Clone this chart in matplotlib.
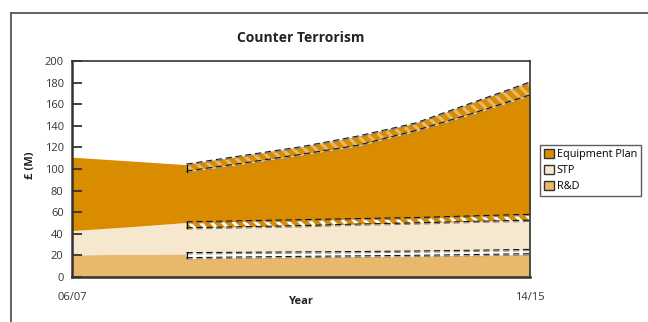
import matplotlib
matplotlib.use("Agg")
import matplotlib.pyplot as plt
from matplotlib.patches import Patch
from matplotlib.lines import Line2D
import numpy as np

plt.rcParams['font.family'] = ['Open Sans', 'DejaVu Sans']
plt.rcParams['hatch.linewidth'] = 2.2

years = ['06/07', '07/08', '08/09', '09/10', '10/11', '11/12', '12/13', '13/14', '14/15']
tick_labels = ['06/07', '14/15']

# actual (stacked tops) for 06/07 .. 08/09
rd_actual = [20.5, 21, 21.5]
stp_actual = [43, 46.5, 50.5]
equip_actual = [111, 107.5, 104]

# forecast bands (stacked) for 08/09 .. 14/15
rd_lo = [17.3, 18, 18.5, 19, 19.5, 20.2, 21]
rd_hi = [22, 22.3, 22.7, 23, 23.5, 24.2, 25]
stp_lo = [45, 46, 47, 48.5, 49.5, 51, 52]
stp_hi = [50.5, 51.5, 52.5, 53.5, 54.5, 56, 57.5]
equip_lo = [97.5, 105, 113, 121.5, 135, 151, 168]
equip_hi = [104, 112, 120, 130, 142, 161, 180]

C_EQ = '#D98C00'
C_STP = '#F6E7CF'
C_RD = '#E8B96C'
C_SP = '#333333'

fig = plt.figure(figsize=(6.48, 3.22), dpi=100)
ax = fig.add_axes([72/648, 1-277/322, (530-72)/648, (277-61)/322])

xa = np.arange(len(rd_actual))
xf = np.arange(len(rd_actual) - 1, len(years))

# actual part
ax.fill_between(xa, 0, rd_actual, color=C_RD, lw=0)
ax.fill_between(xa, rd_actual, stp_actual, color=C_STP, lw=0)
ax.fill_between(xa, stp_actual, equip_actual, color=C_EQ, lw=0)

# forecast part
ax.fill_between(xf, 0, rd_lo, color=C_RD, lw=0)
ax.fill_between(xf, rd_lo, rd_hi, color='#FFFDF8', lw=0)
ax.fill_between(xf, rd_hi, stp_lo, color=C_STP, lw=0)
ax.fill_between(xf, stp_lo, stp_hi, facecolor=C_EQ, edgecolor='white', hatch='\\\\\\', lw=0)
ax.fill_between(xf, stp_hi, equip_lo, color=C_EQ, lw=0)
ax.fill_between(xf, equip_lo, equip_hi, facecolor=C_EQ, edgecolor=C_RD, hatch='\\\\\\', lw=0)

for lo, hi in [(rd_lo, rd_hi), (stp_lo, stp_hi), (equip_lo, equip_hi)]:
    for s in (lo, hi):
        ax.plot(xf, np.array(s) - 0.6, color='#808080', lw=0.75, dashes=(6, 3.5),
                dash_capstyle='butt')
        ax.plot(xf, np.array(s) + 0.6, color='#111111', lw=0.75, dashes=(6, 3.5),
                dash_capstyle='butt')
    ax.plot([xf[0], xf[0]], [lo[0], hi[0]], color='black', lw=0.8)
    ax.plot([xf[-1], xf[-1]], [lo[-1], hi[-1]], color='black', lw=0.8)

ax.set_xlim(0, len(years) - 1)
ax.set_ylim(0, 200)
ax.set_yticks(np.arange(0, 201, 20))
ax.set_xticks([0, len(years) - 1])
ax.set_xticklabels(tick_labels)
ax.tick_params(axis='y', direction='in', length=7.5, width=1.3, color=C_SP,
               labelsize=8, labelcolor='#333333', pad=6)
ax.tick_params(axis='x', length=0, labelsize=8, labelcolor='#333333', pad=11)
for sp in ax.spines.values():
    sp.set_color(C_SP)
    sp.set_linewidth(1.2)
ax.spines['left'].set_linewidth(1.8)
ax.spines['bottom'].set_linewidth(1.8)

ax.set_title('Counter Terrorism', fontsize=10, fontweight='bold', color='#222222', pad=14)
fig.text(301/648, 1-301/322, 'Year', ha='center', va='center', fontsize=8,
         fontweight='bold', color='#222222')
fig.text(31/648, 1-165/322, '£ (M)', ha='center', va='center', rotation=90,
         fontsize=8, fontweight='bold', color='#222222')

# outer frame
fig.add_artist(Line2D([11/648, 1], [1-13/322, 1-13/322], color='#555555', lw=1.3,
                      transform=fig.transFigure))
fig.add_artist(Line2D([11/648, 11/648], [1-13/322, 0], color='#555555', lw=1.3,
                      transform=fig.transFigure))

handles = [Patch(facecolor=C_EQ, edgecolor=C_SP, lw=1.0, label='Equipment Plan'),
           Patch(facecolor=C_STP, edgecolor=C_SP, lw=1.0, label='STP'),
           Patch(facecolor=C_RD, edgecolor=C_SP, lw=1.0, label='R&D')]
leg = fig.legend(handles=handles, loc='upper left',
                 bbox_to_anchor=(540/648, 1-145/322), fontsize=7.8,
                 frameon=True, fancybox=False, edgecolor=C_SP,
                 handlelength=0.9, handleheight=0.9, handletextpad=0.3,
                 borderpad=0.35, labelspacing=0.45, borderaxespad=0)
leg.get_frame().set_linewidth(1.0)

fig.savefig('out.png', dpi=100)
